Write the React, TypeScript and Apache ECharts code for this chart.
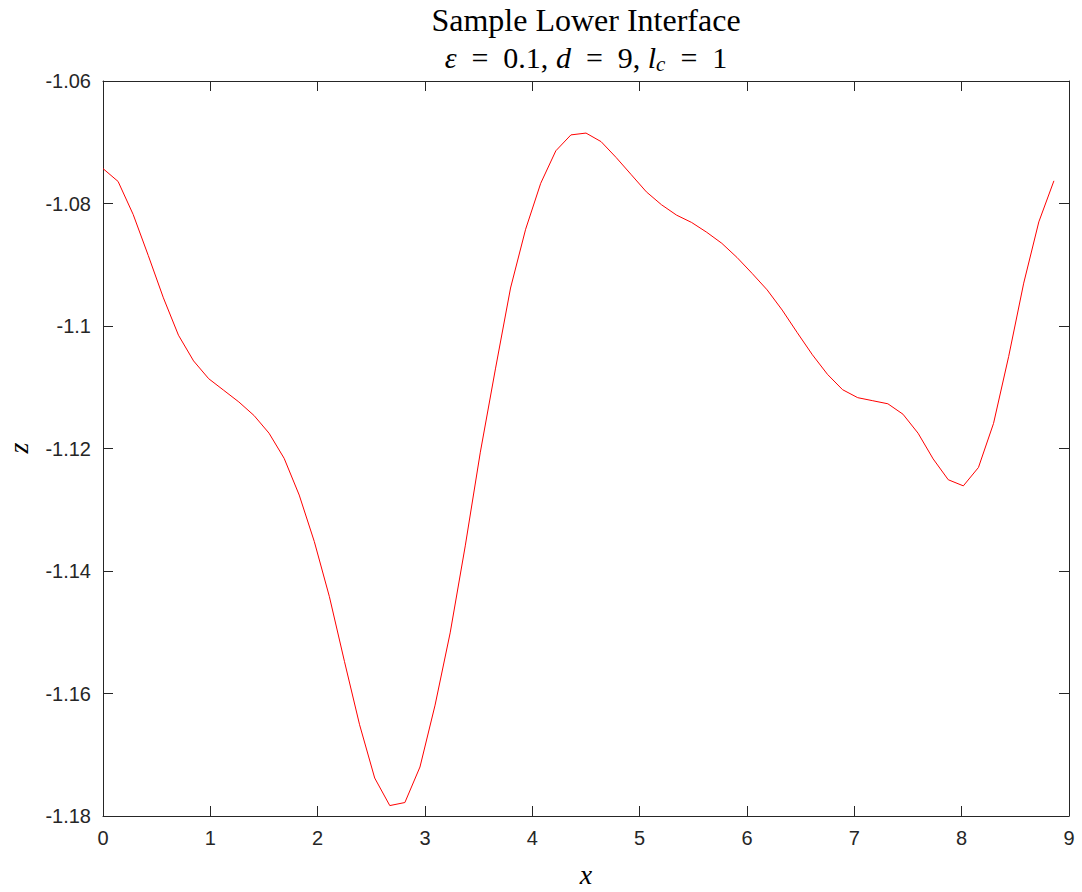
import React, { useEffect, useRef } from "react";
import * as echarts from "echarts";

const xValues = [
  0, 0.1406, 0.2813, 0.4219, 0.5625, 0.7031, 0.8438, 0.9844, 1.125, 1.2656,
  1.4063, 1.5469, 1.6875, 1.8281, 1.9688, 2.1094, 2.25, 2.3906, 2.5313, 2.6719,
  2.8125, 2.9531, 3.0938, 3.2344, 3.375, 3.5156, 3.6563, 3.7969, 3.9375, 4.0781,
  4.2188, 4.3594, 4.5, 4.6406, 4.7813, 4.9219, 5.0625, 5.2031, 5.3438, 5.4844,
  5.625, 5.7656, 5.9063, 6.0469, 6.1875, 6.3281, 6.4688, 6.6094, 6.75, 6.8906,
  7.0313, 7.1719, 7.3125, 7.4531, 7.5938, 7.7344, 7.875, 8.0156, 8.1563, 8.2969,
  8.4375, 8.5781, 8.7188, 8.8594,
];

const zValues = [
  -1.0743, -1.0764, -1.0818, -1.0885, -1.0954, -1.1015, -1.1057, -1.1086, -1.1105, -1.1124,
  -1.1146, -1.1175, -1.1216, -1.1276, -1.1352, -1.1442, -1.1548, -1.1651, -1.1738, -1.1783,
  -1.1778, -1.172, -1.1619, -1.1501, -1.1359, -1.1206, -1.107, -1.0938, -1.0842, -1.0767,
  -1.0714, -1.0688, -1.0685, -1.0699, -1.0725, -1.0753, -1.0781, -1.0802, -1.0819, -1.0831,
  -1.0847, -1.0865, -1.0888, -1.0914, -1.0941, -1.0974, -1.1011, -1.1047, -1.1079, -1.1104,
  -1.1117, -1.1122, -1.1127, -1.1144, -1.1175, -1.1217, -1.1251, -1.1261, -1.1231, -1.1159,
  -1.105, -1.093, -1.083, -1.0763,
];

const titleLine1 = "Sample Lower Interface";
const titleLine2 = "{i|ε}\u2002=\u20020.1, {i|d}\u2002=\u20029, {i|l}{sub|c}\u2002=\u20021";
const xLabel = "x";
const yLabel = "z";

const GRID = { left: 103, top: 81, width: 966, height: 735 };
const AXIS_COLOR = "#262626";
const SERIF = "'Liberation Serif', 'DejaVu Serif', serif";
const SANS = "'Liberation Sans', Arial, Helvetica, sans-serif";

export default function App() {
  const ref = useRef<HTMLDivElement>(null);

  useEffect(() => {
    if (!ref.current) return;
    const chart = echarts.init(ref.current, undefined, { renderer: "svg" });

    const axisCommon = {
      type: "value" as const,
      axisLine: { show: true, onZero: false, lineStyle: { color: AXIS_COLOR, width: 1 } },
      axisTick: { show: true, inside: true, length: 10, lineStyle: { color: AXIS_COLOR, width: 1 } },
      splitLine: { show: false },
    };

    const xAxisBase = { ...axisCommon, min: 0, max: 9, interval: 1 };
    const yAxisBase = { ...axisCommon, min: -1.18, max: -1.06, interval: 0.02 };

    const cx = GRID.left + GRID.width / 2;

    chart.setOption({
      animation: false,
      backgroundColor: "#ffffff",
      grid: { ...GRID, containLabel: false },
      xAxis: [
        {
          ...xAxisBase,
          position: "bottom",
          axisLabel: {
            show: true,
            color: AXIS_COLOR,
            fontSize: 20,
            fontFamily: SANS,
            margin: 12,
            formatter: (v: number) => String(Math.round(v)),
          },
        },
        { ...xAxisBase, position: "top", axisLabel: { show: false } },
      ],
      yAxis: [
        {
          ...yAxisBase,
          position: "left",
          axisLabel: {
            show: true,
            color: AXIS_COLOR,
            fontSize: 20,
            fontFamily: SANS,
            margin: 12,
            formatter: (v: number) => String(parseFloat(v.toFixed(2))),
          },
        },
        { ...yAxisBase, position: "right", axisLabel: { show: false } },
      ],
      series: [
        {
          type: "line",
          xAxisIndex: 0,
          yAxisIndex: 0,
          data: xValues.map((x, i) => [x, zValues[i]]),
          showSymbol: false,
          symbol: "none",
          lineStyle: { color: "#ff0000", width: 1 },
          itemStyle: { color: "#ff0000" },
        },
      ],
      graphic: [
        {
          type: "text",
          x: cx,
          y: 20,
          style: {
            text: titleLine1,
            fill: "#000",
            font: `32px ${SERIF}`,
            textAlign: "center",
            textVerticalAlign: "middle",
          },
        },
        {
          type: "text",
          x: cx,
          y: 57,
          style: {
            text: titleLine2,
            fill: "#000",
            font: `30px ${SERIF}`,
            fontSize: 30,
            fontFamily: SERIF,
            textAlign: "center",
            textVerticalAlign: "middle",
            rich: {
              i: { fontStyle: "italic", fontSize: 30, fontFamily: SERIF, fill: "#000" },
              sub: {
                fontStyle: "italic",
                fontSize: 21,
                fontFamily: SERIF,
                fill: "#000",
                padding: [13, 0, 0, 0],
              },
            },
          },
        },
        {
          type: "text",
          x: cx,
          y: 874,
          style: {
            text: xLabel,
            fill: "#000",
            font: `italic 28px ${SERIF}`,
            textAlign: "center",
            textVerticalAlign: "middle",
          },
        },
        {
          type: "text",
          x: 18,
          y: 448,
          rotation: Math.PI / 2,
          style: {
            text: yLabel,
            fill: "#000",
            font: `italic 28px ${SERIF}`,
            textAlign: "center",
            textVerticalAlign: "middle",
          },
        },
      ],
    });

    return () => chart.dispose();
  }, []);

  return (
    <div
      ref={ref}
      style={{ position: "absolute", left: 0, top: 0, width: 1082, height: 892, background: "#fff" }}
    />
  );
}
